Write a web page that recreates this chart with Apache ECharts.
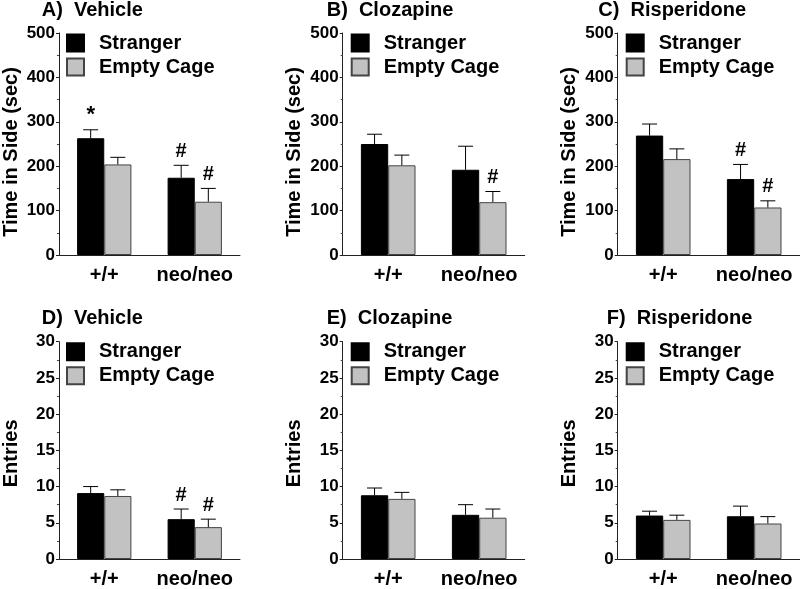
<!DOCTYPE html>
<html>
<head>
<meta charset="UTF-8">
<script src="https://cdn.jsdelivr.net/npm/echarts@6/dist/echarts.min.js"></script>
<style>
  html, body { margin: 0; padding: 0; background: #fff; }
  #main { width: 800px; height: 589px; }
</style>
</head>
<body>
<div id="main"></div>
<script>
var categories = ['+/+', 'neo/neo'];
var panelTitles = ['A)  Vehicle', 'B)  Clozapine', 'C)  Risperidone', 'D)  Vehicle', 'E)  Clozapine', 'F)  Risperidone'];
var yNames = ['Time in Side (sec)', 'Entries'];

// time in side (sec), one pair per panel: [+/+, neo/neo]
var timeStranger    = [[263, 174], [250, 192], [269, 171]];
var timeStrangerErr = [[19, 28],   [22, 53],   [26, 33]];
var timeEmpty       = [[204, 120], [202, 119], [216, 107]];
var timeEmptyErr    = [[16, 30],   [23, 24],   [23, 15]];
var timeStrangerMark = [['*', '#'], ['', ''], ['', '#']];
var timeEmptyMark    = [['', '#'], ['', '#'], ['', '#']];

// entries
var entriesStranger    = [[9.1, 5.5], [8.8, 6.1], [6.0, 5.9]];
var entriesStrangerErr = [[0.9, 1.4], [1.0, 1.4], [0.6, 1.4]];
var entriesEmpty       = [[8.7, 4.4], [8.3, 5.7], [5.4, 4.9]];
var entriesEmptyErr    = [[0.85, 1.1], [0.9, 1.2], [0.65, 0.95]];
var entriesStrangerMark = [['', '#'], ['', ''], ['', '']];
var entriesEmptyMark    = [['', '#'], ['', ''], ['', '']];

var FONT = '"Liberation Sans", Arial, sans-serif';
var colLeft = [58, 342.7, 617.7];
var rowTop = [33, 341.7];
var titleLeft = [[41.7, 326.7, 598.3], [41.7, 326.7, 606.7]];

function errRender(marks, side) {
    return function (params, api) {
        var x = api.value(0), m = api.value(1), e = api.value(2);
        var band = api.size([1, 0])[0];
        var p0 = api.coord([x, m]);
        var p1 = api.coord([x, m + e]);
        var cx = p0[0] + side * band * 0.15;
        var kids = [
            { type: 'line', shape: { x1: cx, y1: p0[1], x2: cx, y2: p1[1] }, style: { stroke: '#000', lineWidth: 1 } },
            { type: 'line', shape: { x1: cx - 7.5, y1: p1[1], x2: cx + 7.5, y2: p1[1] }, style: { stroke: '#000', lineWidth: 1 } }
        ];
        var mk = marks[params.dataIndex];
        if (mk) {
            kids.push({ type: 'text', style: { text: mk, x: cx, y: p1[1] - 4, align: 'center', verticalAlign: 'bottom',
                font: 'bold ' + (mk === '*' ? 22 : 20) + 'px ' + FONT, fill: '#000' } });
        }
        return { type: 'group', children: kids };
    };
}

function pairData(vals, errs) {
    return vals.map(function (v, i) { return [i, v, errs[i]]; });
}

var option = {
    animation: false,
    backgroundColor: '#fff',
    title: [], legend: [], grid: [], xAxis: [], yAxis: [], series: []
};

for (var r = 0; r < 2; r++) {
    for (var c = 0; c < 3; c++) {
        var k = r * 3 + c;
        var sv = r === 0 ? timeStranger[c] : entriesStranger[c];
        var se = r === 0 ? timeStrangerErr[c] : entriesStrangerErr[c];
        var ev = r === 0 ? timeEmpty[c] : entriesEmpty[c];
        var ee = r === 0 ? timeEmptyErr[c] : entriesEmptyErr[c];
        var sm = r === 0 ? timeStrangerMark[c] : entriesStrangerMark[c];
        var em = r === 0 ? timeEmptyMark[c] : entriesEmptyMark[c];

        option.title.push({
            text: panelTitles[k], left: titleLeft[r][c], top: rowTop[r] - 33, padding: 0,
            textStyle: { fontFamily: FONT, fontWeight: 'bold', fontSize: 20, color: '#000' }
        });
        option.legend.push({
            data: ['Stranger', 'Empty Cage'], orient: 'vertical', left: colLeft[c] + 8, top: rowTop[r],
            padding: 0, itemWidth: 17, itemHeight: 17, itemGap: 4, icon: 'rect',
            textStyle: { fontFamily: FONT, fontWeight: 'bold', fontSize: 20, color: '#000', padding: [0, 0, 0, 10] }
        });
        option.grid.push({ left: colLeft[c], top: rowTop[r], width: 182, height: 222 });
        option.xAxis.push({
            type: 'category', gridIndex: k, data: categories,
            axisLine: { lineStyle: { color: '#222', width: 1 } },
            axisTick: { show: false },
            axisLabel: { interval: 0, margin: 10, color: '#000', fontFamily: FONT, fontWeight: 'bold', fontSize: 20 }
        });
        option.yAxis.push({
            type: 'value', gridIndex: k, min: 0, max: r === 0 ? 500 : 30, interval: r === 0 ? 100 : 5,
            name: yNames[r], nameLocation: 'middle', nameGap: 38,
            nameTextStyle: { fontFamily: FONT, fontWeight: 'bold', fontSize: 20, color: '#000',
                padding: r === 0 ? [0, 16, 0, 0] : [0, 6, 0, 0] },
            axisLine: { show: true, lineStyle: { color: '#222', width: 1 } },
            axisTick: { show: true, length: 3, lineStyle: { color: '#222' } },
            minorTick: { show: true, splitNumber: 2, length: 2, lineStyle: { color: '#444' } },
            splitLine: { show: false },
            axisLabel: { margin: 4, color: '#000', fontFamily: FONT, fontWeight: 'bold', fontSize: 17 }
        });
        option.series.push({
            name: 'Stranger', type: 'bar', xAxisIndex: k, yAxisIndex: k, data: sv,
            barWidth: '30%', barGap: '0%',
            itemStyle: { color: '#000', borderColor: '#000', borderWidth: 1 }
        });
        option.series.push({
            name: 'Empty Cage', type: 'bar', xAxisIndex: k, yAxisIndex: k, data: ev,
            barWidth: '30%', barGap: '0%',
            itemStyle: { color: '#c2c2c2', borderColor: '#444', borderWidth: 1 }
        });
        option.series.push({
            name: 'errS' + k, type: 'custom', xAxisIndex: k, yAxisIndex: k, z: 5,
            data: pairData(sv, se), encode: { x: 0, y: 1 }, renderItem: errRender(sm, -1)
        });
        option.series.push({
            name: 'errE' + k, type: 'custom', xAxisIndex: k, yAxisIndex: k, z: 5,
            data: pairData(ev, ee), encode: { x: 0, y: 1 }, renderItem: errRender(em, 1)
        });
    }
}

var chart = echarts.init(document.getElementById('main'));
chart.setOption(option);
</script>
</body>
</html>
